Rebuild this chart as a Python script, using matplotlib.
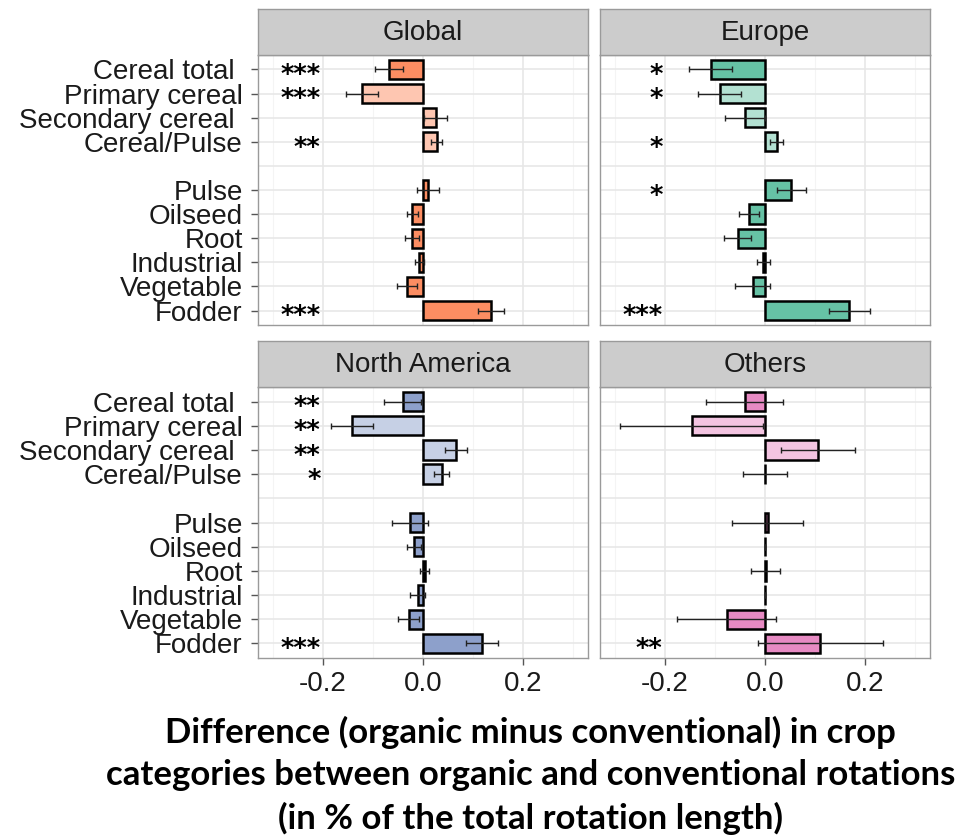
import numpy as np
import matplotlib.pyplot as plt
from matplotlib.colors import to_rgb

# ---- data ----
categories = ["Cereal total ", "Primary cereal", "Secondary cereal ", "Cereal/Pulse",
              "Pulse", "Oilseed", "Root", "Industrial", "Vegetable", "Fodder"]
is_cereal_sub = [False, True, True, True, False, False, False, False, False, False]

regions = ["Global", "Europe", "North America", "Others"]
region_colors = ["#FC8D62", "#66C2A5", "#8DA0CB", "#E78AC3"]

global_mean = [-0.069, -0.122, 0.025, 0.027, 0.010, -0.022, -0.023, -0.008, -0.033, 0.135]
global_err  = [0.028, 0.032, 0.023, 0.011, 0.022, 0.011, 0.014, 0.009, 0.020, 0.026]
global_sig  = ["***", "***", "", "**", "", "", "", "", "", "***"]

europe_mean = [-0.109, -0.091, -0.041, 0.023, 0.052, -0.032, -0.055, -0.004, -0.025, 0.168]
europe_err  = [0.043, 0.043, 0.040, 0.013, 0.029, 0.020, 0.027, 0.013, 0.035, 0.041]
europe_sig  = ["*", "*", "", "*", "*", "", "", "", "", "***"]

namerica_mean = [-0.041, -0.142, 0.065, 0.037, -0.027, -0.018, 0.003, -0.011, -0.029, 0.117]
namerica_err  = [0.037, 0.042, 0.022, 0.015, 0.036, 0.014, 0.009, 0.015, 0.021, 0.032]
namerica_sig  = ["**", "**", "**", "*", "", "", "", "", "", "***"]

others_mean = [-0.041, -0.147, 0.106, 0.000, 0.005, 0.000, 0.001, 0.000, -0.077, 0.110]
others_err  = [0.077, 0.143, 0.074, 0.044, 0.071, 0.000, 0.029, 0.000, 0.099, 0.125]
others_sig  = ["", "", "", "", "", "", "", "", "", "**"]

means = [global_mean, europe_mean, namerica_mean, others_mean]
errs = [global_err, europe_err, namerica_err, others_err]
sigs = [global_sig, europe_sig, namerica_sig, others_sig]

ypos = [0, 1, 2, 3, 5, 6, 7, 8, 9, 10]   # gap between cereals and the rest
xticks = [-0.2, 0.0, 0.2]
xtick_labels = ["-0.2", "0.0", "0.2"]

TITLE = ("Difference (organic minus conventional) in crop\n"
         "categories between organic and conventional rotations\n"
         "(in % of the total rotation length)")

plt.rcParams['font.family'] = ['Liberation Sans', 'DejaVu Sans']
FS = 20
TXT = "#1a1a1a"


def lighten(c, a=0.5):
    r = np.array(to_rgb(c))
    return tuple(1 - a * (1 - r))


fig = plt.figure(figsize=(9.63, 8.38), dpi=100)

W, H = 963, 838
panels = {  # left, top, right, bottom in pixels
    0: (258, 55, 588, 325),
    1: (600, 55, 930, 325),
    2: (258, 387, 588, 658),
    3: (600, 387, 930, 658),
}
strip_h = 46

for i, reg in enumerate(regions):
    l, t, r, b = panels[i]
    ax = fig.add_axes([l / W, 1 - b / H, (r - l) / W, (b - t) / H])
    col = region_colors[i]
    fills = [lighten(col) if s else col for s in is_cereal_sub]

    ax.set_xlim(-0.33, 0.33)
    ax.set_ylim(10.6, -0.6)

    # grid
    for xv in [-0.3, -0.1, 0.1, 0.3]:
        ax.axvline(xv, color="#F4F4F4", lw=0.8, zorder=0)
    for xv in xticks:
        ax.axvline(xv, color="#E6E6E6", lw=1.1, zorder=0)
    for yv in range(11):
        ax.axhline(yv, color="#E6E6E6", lw=1.1, zorder=0)

    ax.barh(ypos, means[i], height=0.8, color=fills, edgecolor="black",
            linewidth=1.8, zorder=2)
    ax.errorbar(means[i], ypos, xerr=errs[i], fmt="none", ecolor="#222222",
                elinewidth=1.0, capsize=2.2, capthick=1.0, zorder=3)

    for y, s in zip(ypos, sigs[i]):
        if s:
            ax.text(-0.205, y + 0.28, s, ha="right", va="center",
                    fontsize=18.5, fontweight="bold", family="DejaVu Sans",
                    color="black", zorder=4)

    for sp in ax.spines.values():
        sp.set_color("#9A9A9A")
        sp.set_linewidth(1.0)

    if i % 2 == 0:
        ax.set_yticks(ypos)
        ax.set_yticklabels(categories, fontsize=FS, color=TXT)
        ax.tick_params(axis="y", length=5, color="#555555", width=1.0, pad=6)
    else:
        ax.set_yticks([])
    if i >= 2:
        ax.set_xticks(xticks)
        ax.set_xticklabels(xtick_labels, fontsize=FS, color=TXT)
        ax.tick_params(axis="x", length=5, color="#555555", width=1.0, pad=4)
    else:
        ax.set_xticks([])

    # facet strip
    sax = fig.add_axes([l / W, 1 - t / H, (r - l) / W, strip_h / H])
    sax.set_facecolor("#CCCCCC")
    sax.set_xticks([])
    sax.set_yticks([])
    for sp in sax.spines.values():
        sp.set_color("#9A9A9A")
        sp.set_linewidth(1.0)
    sax.text(0.5, 0.47, reg, ha="center", va="center", fontsize=FS, color=TXT,
             transform=sax.transAxes)

fig.text(0.551, 0.004, TITLE, ha="center", va="bottom", fontsize=25,
         fontweight="bold", family=["Lato", "DejaVu Sans"], linespacing=1.38,
         color="black")

fig.savefig("out.png", dpi=100)
